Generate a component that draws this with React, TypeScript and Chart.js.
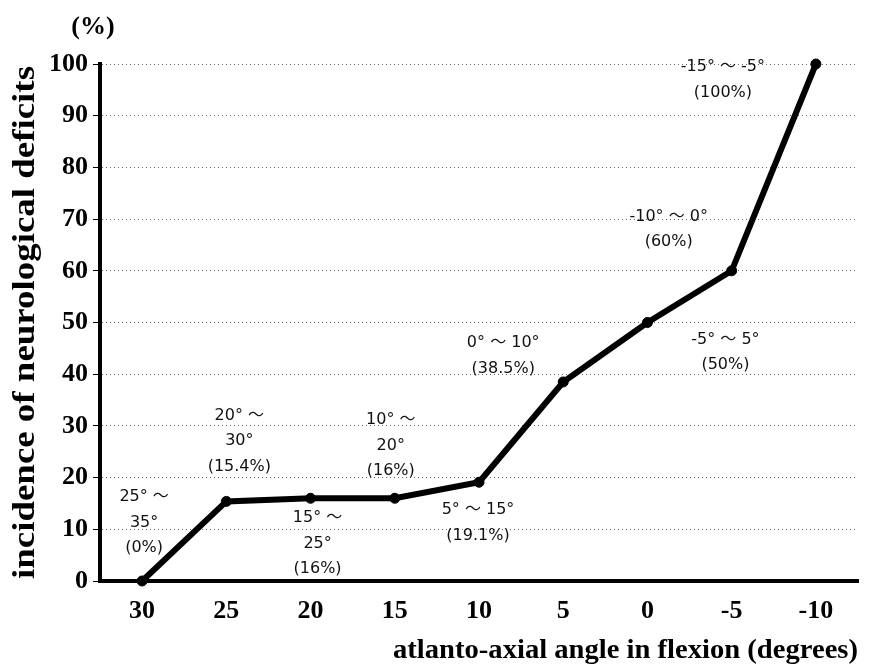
import React, { useEffect, useRef } from "react";
import { Chart, registerables } from "chart.js";

Chart.register(...registerables);

// ---- data ----
const angleLabels = ["30", "25", "20", "15", "10", "5", "0", "-5", "-10"];
const incidence = [0, 15.4, 16, 16, 19.1, 38.5, 50, 60, 100];
const rangeNotes: string[][] = [
  ["25° 〜", "35°", "(0%)"],
  ["20° 〜", "30°", "(15.4%)"],
  ["15° 〜", "25°", "(16%)"],
  ["10° 〜", "20°", "(16%)"],
  ["5° 〜 15°", "(19.1%)"],
  ["0° 〜 10°", "(38.5%)"],
  ["-5° 〜 5°", "(50%)"],
  ["-10° 〜 0°", "(60%)"],
  ["-15° 〜 -5°", "(100%)"],
];
const yMin = 0;
const yMax = 100;
const yStep = 10;
const yTitle = "incidence of neurological deficits";
const xTitle = "atlanto-axial angle in flexion (degrees)";
const unitLabel = "(%)";

// ---- layout (pixel offsets of notes relative to their point) ----
const noteOffsets: number[][] = [
  [2, -84],
  [13, -86],
  [7, 20],
  [-4, -78],
  [-1, 28],
  [-60, -39],
  [78, 17],
  [-63, -54],
  [-93, 3],
];

const SERIF = '"Liberation Serif", "Times New Roman", serif';
const NOTE_FONT = '16px "DejaVu Sans", "Noto Sans CJK JP", sans-serif';

const notesPlugin = {
  id: "notes",
  afterDatasetsDraw(chart: any) {
    const ctx = chart.ctx;
    const meta = chart.getDatasetMeta(0);
    ctx.save();
    ctx.font = NOTE_FONT;
    ctx.fillStyle = "#111";
    ctx.textAlign = "center";
    ctx.textBaseline = "middle";
    rangeNotes.forEach((lines, i) => {
      const pt = meta.data[i];
      if (!pt) return;
      const [dx, dy] = noteOffsets[i];
      lines.forEach((ln, j) => {
        ctx.fillText(ln, pt.x + dx, pt.y + dy + j * 25.5);
      });
    });
    ctx.restore();
  },
};

const titlesPlugin = {
  id: "titles",
  afterDraw(chart: any) {
    const ctx = chart.ctx;
    const area = chart.chartArea;
    ctx.save();
    ctx.fillStyle = "#000";
    // y title (rotated)
    ctx.font = `bold 32px ${SERIF}`;
    const yw = ctx.measureText(yTitle).width;
    const yFit = 513 / yw;
    ctx.translate(34, (area.top + area.bottom) / 2);
    ctx.rotate(-Math.PI / 2);
    ctx.scale(yFit, 1);
    ctx.textAlign = "center";
    ctx.textBaseline = "alphabetic";
    ctx.fillText(yTitle, 0, 0);
    ctx.restore();

    ctx.save();
    ctx.fillStyle = "#000";
    ctx.font = `bold 27px ${SERIF}`;
    const xw = ctx.measureText(xTitle).width;
    const xFit = Math.min(1.2, 465 / xw);
    ctx.translate(area.right, 658);
    ctx.scale(xFit, 1);
    ctx.textAlign = "right";
    ctx.textBaseline = "alphabetic";
    ctx.fillText(xTitle, 0, 0);
    ctx.restore();

    ctx.save();
    ctx.fillStyle = "#000";
    ctx.font = `bold 26px ${SERIF}`;
    ctx.textAlign = "center";
    ctx.textBaseline = "middle";
    ctx.fillText(unitLabel, area.left - 7, area.top - 37);
    ctx.restore();
  },
};

export default function App() {
  const ref = useRef<HTMLCanvasElement | null>(null);
  useEffect(() => {
    if (!ref.current) return;
    const chart = new Chart(ref.current, {
      type: "line",
      data: {
        labels: angleLabels,
        datasets: [
          {
            data: incidence,
            borderColor: "#000",
            backgroundColor: "#000",
            borderWidth: 6,
            pointRadius: 5,
            pointBackgroundColor: "#000",
            pointBorderColor: "#000",
            pointBorderWidth: 1,
            tension: 0,
            clip: false as any,
          },
        ],
      },
      options: {
        responsive: false,
        animation: false,
        devicePixelRatio: 1,
        layout: { padding: { left: 0, top: 64, right: 14, bottom: 0 } },
        plugins: {
          legend: { display: false },
          tooltip: { enabled: false },
          title: { display: false },
        },
        scales: {
          x: {
            type: "category",
            offset: true,
            grid: { display: false, drawTicks: false },
            border: { display: true, color: "#000", width: 4 },
            ticks: {
              color: "#000",
              padding: 15,
              maxRotation: 0,
              autoSkip: false,
              font: { family: SERIF, size: 26, weight: "bold" },
            },
            afterFit(scale: any) {
              scale.height = 88;
            },
          },
          y: {
            min: yMin,
            max: yMax,
            grid: {
              color: "#666",
              lineWidth: 1,
              drawTicks: true,
              tickLength: 7,
              tickColor: "#000",
              tickWidth: 1,
              tickBorderDash: [],
            } as any,
            border: { display: true, color: "#000", width: 4, dash: [1, 3] },
            ticks: {
              stepSize: yStep,
              color: "#000",
              padding: 5,
              font: { family: SERIF, size: 26, weight: "bold" },
            },
            afterFit(scale: any) {
              scale.width = 100;
            },
          },
        },
      },
      plugins: [notesPlugin, titlesPlugin],
    });
    return () => chart.destroy();
  }, []);
  return (
    <div style={{ position: "fixed", left: 0, top: 0, width: 872, height: 669, background: "#fff" }}>
      <canvas ref={ref} width={872} height={669} style={{ display: "block" }} />
    </div>
  );
}
